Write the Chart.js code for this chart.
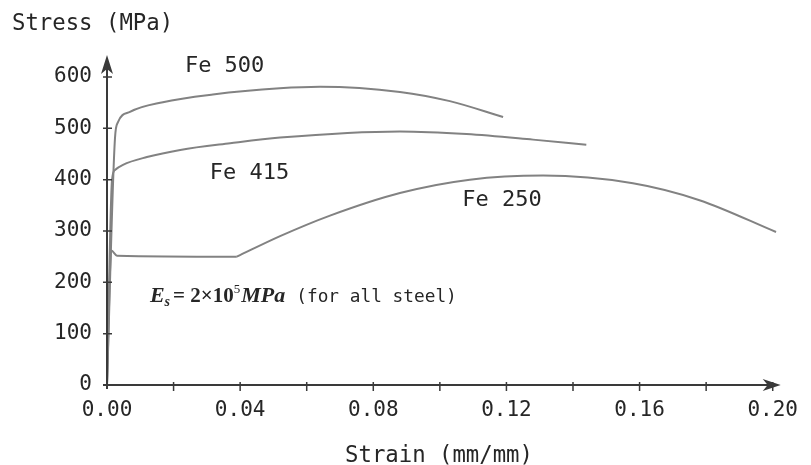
<!DOCTYPE html>
<html>
<head>
<meta charset="utf-8">
<script src="https://cdn.jsdelivr.net/npm/chart.js@4/dist/chart.umd.min.js"></script>
<style>
  html, body { margin: 0; padding: 0; background: #fff; }
  #wrap { width: 811px; height: 465px; }
</style>
</head>
<body>
<div id="wrap"><canvas id="c"></canvas></div>
<script>
// Stress-strain curves for reinforcing steel grades
const fe500Strain = [0, 0.0024, 0.0033, 0.0069, 0.0168, 0.0318, 0.0519, 0.064, 0.088, 0.103, 0.119];
const fe500Stress = [0, 481, 512, 532, 551, 566, 578, 581, 571, 553, 522];

const fe415Strain = [0, 0.0015, 0.0024, 0.0048, 0.012, 0.022, 0.037, 0.052, 0.088, 0.108, 0.128, 0.144];
const fe415Stress = [0, 399, 419, 429, 444, 458, 471, 482, 494, 489, 478, 468];

const fe250Strain = [0, 0.0013, 0.003, 0.039, 0.052, 0.067, 0.088, 0.109, 0.131, 0.158, 0.178, 0.201];
const fe250Stress = [0, 262, 252, 250, 290, 330, 374, 400, 408, 393, 360, 298];

// index where the yield plateau of Fe 250 ends and strain hardening begins
const fe250HardeningStart = 3;

const strainTicks = [0, 0.04, 0.08, 0.12, 0.16, 0.20];
const stressTicks = [0, 100, 200, 300, 400, 500, 600];

const MONO = '"DejaVu Sans Mono", monospace';
const SERIF = '"Liberation Serif", "DejaVu Serif", serif';
const INK = '#262626';
const CURVE = '#828282';

function pts(xs, ys) { return xs.map((x, i) => ({ x: x, y: ys[i] })); }

function curve(label, xs, ys, smooth) {
  return {
    label: label,
    data: pts(xs, ys),
    borderColor: CURVE,
    borderWidth: 2,
    pointRadius: 0,
    fill: false,
    tension: smooth ? 0.4 : 0,
    cubicInterpolationMode: 'monotone',
    clip: false
  };
}

const decor = {
  id: 'decor',
  afterDraw(chart) {
    const ctx = chart.ctx;
    const xs = chart.scales.x, ys = chart.scales.y;
    const x0 = xs.getPixelForValue(0), y0 = ys.getPixelForValue(0);
    ctx.save();

    // axes with arrowheads
    ctx.strokeStyle = '#3a3a3a';
    ctx.fillStyle = '#3a3a3a';
    ctx.lineWidth = 2;
    ctx.beginPath();
    ctx.moveTo(x0, y0 + 4);
    ctx.lineTo(x0, 62);
    ctx.moveTo(x0 - 4, y0);
    ctx.lineTo(xs.right + 0, y0);
    ctx.stroke();

    const yt = 55;
    ctx.beginPath();
    ctx.moveTo(x0, yt);
    ctx.lineTo(x0 + 6, yt + 19);
    ctx.lineTo(x0, yt + 14);
    ctx.lineTo(x0 - 6, yt + 19);
    ctx.closePath();
    ctx.fill();

    const xt = xs.right + 8;
    ctx.beginPath();
    ctx.moveTo(xt, y0);
    ctx.lineTo(xt - 18, y0 - 6);
    ctx.lineTo(xt - 13, y0);
    ctx.lineTo(xt - 18, y0 + 6);
    ctx.closePath();
    ctx.fill();

    // tick marks crossing the axes
    ctx.lineWidth = 1.5;
    ctx.beginPath();
    ys.ticks.forEach(t => {
      if (t.value === 0) return;
      const py = ys.getPixelForValue(t.value);
      ctx.moveTo(x0 - 4, py);
      ctx.lineTo(x0 + 5, py);
    });
    xs.ticks.forEach(t => {
      if (t.value === 0) return;
      const px = xs.getPixelForValue(t.value);
      ctx.moveTo(px, y0 - 3);
      ctx.lineTo(px, y0 + 6);
    });
    ctx.stroke();

    // axis titles
    ctx.fillStyle = INK;
    ctx.font = '22.3px ' + MONO;
    ctx.textBaseline = 'middle';
    ctx.textAlign = 'left';
    ctx.fillText('Stress (MPa)', 12, 24);
    ctx.textAlign = 'center';
    ctx.fillText('Strain (mm/mm)', 439, 456);

    // curve labels
    ctx.textAlign = 'left';
    ctx.font = '22px ' + MONO;
    const lab = (txt, sx, sy) => ctx.fillText(txt, xs.getPixelForValue(sx), ys.getPixelForValue(sy));
    lab('Fe 500', 0.0234, 621);
    lab('Fe 415', 0.0309, 413);
    lab('Fe 250', 0.1067, 360);

    // modulus note
    let px = xs.getPixelForValue(0.0129);
    const base = ys.getPixelForValue(175) + 7;
    ctx.textBaseline = 'alphabetic';
    const put = (txt, font, dy) => {
      ctx.font = font;
      ctx.fillText(txt, px, base + (dy || 0));
      px += ctx.measureText(txt).width;
    };
    put('E', 'italic bold 22px ' + SERIF);
    put('s', 'italic bold 14px ' + SERIF, 4);
    px += 3;
    put('= 2×10', 'bold 21px ' + SERIF);
    put('5', '13px ' + SERIF, -9);
    px += 1;
    put('MPa', 'italic bold 22px ' + SERIF);
    px += 11;
    put('(for all steel)', '17.8px ' + MONO);

    ctx.restore();
  }
};

const k = fe250HardeningStart;

new Chart(document.getElementById('c'), {
  type: 'line',
  data: {
    datasets: [
      curve('Fe 500', fe500Strain, fe500Stress, true),
      curve('Fe 415', fe415Strain, fe415Stress, true),
      // Fe 250: elastic line and yield plateau, then the strain-hardening arc
      curve('Fe 250', fe250Strain.slice(0, k + 1), fe250Stress.slice(0, k + 1), false),
      curve('Fe 250', fe250Strain.slice(k), fe250Stress.slice(k), true)
    ]
  },
  options: {
    responsive: true,
    maintainAspectRatio: false,
    animation: false,
    layout: { padding: { top: 77, right: 37, left: 0, bottom: 0 } },
    plugins: { legend: { display: false }, tooltip: { enabled: false } },
    scales: {
      x: {
        type: 'linear',
        min: 0,
        max: 0.2,
        grid: { display: false, drawTicks: false },
        border: { display: false },
        afterFit(s) { s.height = 80; },
        ticks: {
          stepSize: 0.02,
          maxRotation: 0,
          autoSkip: false,
          padding: 13,
          color: INK,
          font: { family: MONO, size: 21 },
          callback(v) {
            const hit = strainTicks.find(t => Math.abs(t - v) < 1e-6);
            return hit === undefined ? '' : hit.toFixed(2);
          }
        }
      },
      y: {
        min: 0,
        max: 600,
        grid: { display: false, drawTicks: false },
        border: { display: false },
        afterFit(s) { s.width = 107; },
        ticks: {
          stepSize: 100,
          padding: 15,
          color: INK,
          font: { family: MONO, size: 21 },
          callback(v) {
            return stressTicks.includes(v) ? String(v) : '';
          }
        }
      }
    }
  },
  plugins: [decor]
});
</script>
</body>
</html>
